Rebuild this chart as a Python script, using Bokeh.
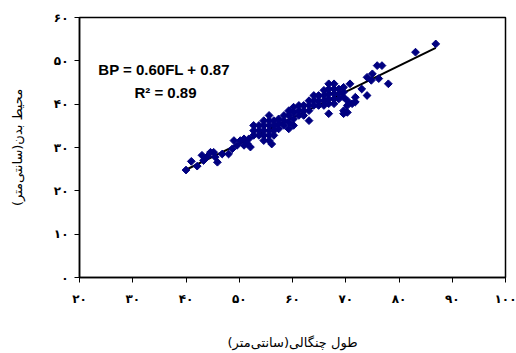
import math
from bokeh.plotting import figure
from bokeh.models import Range1d, Label, FixedTicker
from bokeh.embed import file_html
from bokeh.resources import INLINE

# fork length (FL) and body perimeter (BP), cm
fl = [40.0, 41.0, 42.1, 43.0, 43.3, 44.0, 44.6, 45.2, 45.5, 45.9, 46.8, 48.0,
      48.7, 49.0, 49.6, 50.2, 50.9, 50.9, 51.5, 51.8, 52.1,
      52.7, 52.7, 52.7, 53.7, 53.7, 53.7,
      54.6, 54.6, 54.6, 54.6, 54.6,
      55.6, 55.6, 55.6, 55.6, 55.6, 55.6,
      56.5, 56.5, 56.5, 56.5, 56.1,
      57.4, 57.4, 57.4, 58.4, 58.4, 58.4,
      59.3, 59.3, 59.3, 59.3, 60.2, 60.2, 60.2, 60.2,
      61.2, 61.2, 61.2, 62.1, 62.1, 62.1,
      63.1, 63.1, 63.1, 63.1, 64.0, 64.0, 64.0, 64.9, 64.9, 64.9,
      65.9, 65.9, 65.9, 65.9,
      66.8, 66.8, 66.8, 66.8, 66.8, 66.8,
      67.8, 67.8, 67.8, 67.8, 67.8,
      68.7, 68.7, 68.7,
      69.6, 69.6, 69.6, 69.6, 69.6,
      70.3, 70.3, 70.3, 70.8, 71.2, 71.8, 71.8,
      73.0, 74.0, 74.0, 75.0, 74.8, 75.9, 76.8, 76.2, 78.0, 83.1, 86.9]
bp = [24.8, 26.8, 25.7, 28.2, 27.0, 27.9, 28.9, 28.9, 27.8, 26.6, 28.5, 28.5,
      29.7, 31.6, 30.5, 31.6, 30.5, 32.0, 30.9, 32.0, 30.1,
      35.1, 33.9, 32.8, 35.1, 33.9, 32.8,
      36.2, 35.1, 33.9, 32.8, 31.6,
      37.4, 36.2, 35.1, 33.9, 32.8, 31.6,
      36.2, 35.1, 33.9, 32.8, 30.8,
      36.6, 35.5, 34.3, 37.4, 36.2, 35.1,
      38.5, 37.4, 35.8, 34.3, 39.3, 38.1, 36.6, 35.1,
      39.7, 38.5, 37.4, 39.7, 38.5, 37.4,
      40.8, 39.7, 38.5, 36.2, 42.0, 40.8, 39.7, 42.0, 40.8, 39.7,
      43.2, 42.0, 40.8, 39.7,
      44.7, 43.5, 42.4, 41.2, 40.1, 37.8,
      44.7, 43.5, 42.4, 41.2, 40.1,
      43.5, 42.4, 41.2,
      43.9, 42.8, 41.6, 38.5, 37.8,
      40.8, 39.7, 38.1, 44.7, 40.1, 41.6, 40.5,
      43.5, 42.0, 46.2, 47.0, 45.5, 48.9, 48.9, 45.9, 44.7, 52.0, 53.9]

slope = 0.60
intercept = 0.87
x_ticks = [20, 30, 40, 50, 60, 70, 80, 90, 100]
x_tick_labels = ["۲۰", "۳۰", "۴۰", "۵۰", "۶۰", "۷۰", "۸۰", "۹۰", "۱۰۰"]
y_ticks = [0, 10, 20, 30, 40, 50, 60]
y_tick_labels = ["۰", "۱۰", "۲۰", "۳۰", "۴۰", "۵۰", "۶۰"]
x_title = "طول چنگالی(سانتی‌متر)"
y_title = "محیط بدن(سانتی‌متر)"
eq_text = "BP = 0.60FL + 0.87"
r2_text = "R² = 0.89"

p = figure(width=516, height=353, output_backend="svg", toolbar_location=None,
           x_range=Range1d(20, 100), y_range=Range1d(0, 60),
           min_border_left=79, min_border_right=11, min_border_top=17, min_border_bottom=76)
p.background_fill_color = "white"
p.border_fill_color = "white"
p.outline_line_color = "black"
p.outline_line_width = 1.5
p.xgrid.visible = False
p.ygrid.visible = False

for ax in (p.xaxis[0], p.yaxis[0]):
    ax.axis_line_color = "black"
    ax.axis_line_width = 1.5
    ax.major_tick_line_color = "black"
    ax.major_tick_in = 0
    ax.major_tick_out = 5
    ax.minor_tick_line_color = None
    ax.major_label_text_font = "DejaVu Sans"
    ax.major_label_text_font_style = "bold"
    ax.major_label_text_font_size = "12px"
    ax.major_label_text_color = "black"
    ax.axis_label_text_font = "DejaVu Sans"
    ax.axis_label_text_font_style = "normal"
    ax.axis_label_text_font_size = "13px"
    ax.axis_label_text_color = "black"

p.xaxis[0].ticker = FixedTicker(ticks=x_ticks)
p.xaxis[0].major_label_overrides = {t: s for t, s in zip(x_ticks, x_tick_labels)}
p.xaxis[0].major_label_standoff = 9
p.xaxis[0].axis_label = x_title
p.xaxis[0].axis_label_standoff = 26

p.yaxis[0].ticker = FixedTicker(ticks=y_ticks)
p.yaxis[0].major_label_overrides = {t: s for t, s in zip(y_ticks, y_tick_labels)}
p.yaxis[0].major_label_standoff = 6
p.yaxis[0].axis_label = y_title
p.yaxis[0].axis_label_standoff = 26

# fitted line
lx = [min(fl), max(fl)]
ly = [slope * v + intercept for v in lx]
p.line(lx, ly, line_color="black", line_width=2)

p.scatter(fl, bp, marker="square", size=5.5, angle=math.pi / 4,
          fill_color="#000080", line_color="#000080")

p.add_layout(Label(x=35.9, y=46.15, text=eq_text, text_align="center",
                   text_font="Liberation Sans", text_font_style="bold",
                   text_font_size="15px", text_color="black"))
p.add_layout(Label(x=36.15, y=40.7, text=r2_text, text_align="center",
                   text_font="Liberation Sans", text_font_style="bold",
                   text_font_size="15px", text_color="black"))

open("out.html", "w").write(file_html(p, INLINE))
